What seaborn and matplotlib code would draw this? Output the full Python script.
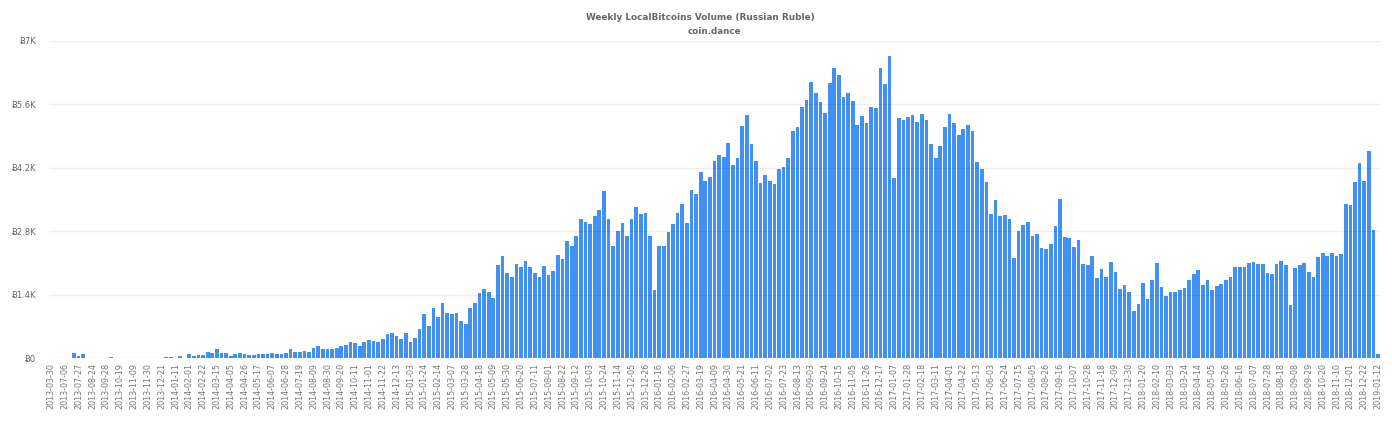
import matplotlib
matplotlib.use("Agg")
import matplotlib.pyplot as plt
import numpy as np
import pandas as pd
import seaborn as sns

# weekly volume (one value per bar)
volume = [
    0, 0, 0, 2, 0, 103, 44, 88, 2, 1, 1, 1, 3, 20, 3, 10, 10, 2, 10, 2,
    2, 3, 10, 10, 2, 20, 20, 3, 40, 10, 80, 44, 60, 75, 125, 118, 205, 118, 118, 52,
    80, 103, 88, 60, 75, 88, 88, 88, 100, 95, 88, 110, 199, 125, 125, 147, 132, 220, 258, 191,
    191, 199, 220, 265, 287, 346, 338, 258, 360, 397, 368, 353, 420, 520, 552, 493, 412, 552, 346, 449,
    636, 964, 707, 1097, 898, 1222, 990, 979, 986, 820, 758, 1104, 1207, 1428, 1516, 1465, 1332, 2053, 2252, 1884,
    1796, 2068, 2009, 2134, 2009, 1877, 1781, 2024, 1833, 1928, 2267, 2178, 2576, 2480, 2694, 3062, 3003, 2966, 3143, 3260,
    3680, 3062, 2480, 2804, 2981, 2694, 3076, 3341, 3172, 3209, 2694, 1494, 2480, 2466, 2789, 2951, 3209, 3400, 2973, 3717,
    3621, 4100, 3916, 3989, 4342, 4475, 4445, 4755, 4254, 4409, 5130, 5358, 4732, 4357, 3857, 4050, 3908, 3835, 4166, 4210,
    4416, 5012, 5093, 5549, 5697, 6087, 5859, 5652, 5417, 6079, 6411, 6256, 5763, 5844, 5667, 5137, 5351, 5189, 5535, 5513,
    6396, 6057, 6676, 3982, 5307, 5255, 5314, 5358, 5208, 5395, 5262, 4725, 4423, 4681, 5093, 5395, 5189, 4931, 5056, 5137,
    5005, 4320, 4166, 3893, 3172, 3496, 3135, 3165, 3076, 2215, 2811, 2929, 2995, 2701, 2738, 2436, 2399, 2524, 2914, 3503,
    2672, 2646, 2458, 2605, 2068, 2046, 2260, 1759, 1958, 1781, 2120, 1906, 1524, 1604, 1450, 1038, 1192, 1649, 1310, 1730,
    2098, 1568, 1369, 1465, 1450, 1494, 1546, 1722, 1862, 1950, 1619, 1730, 1501, 1582, 1627, 1715, 1788, 2002, 2009, 2017,
    2105, 2120, 2068, 2068, 1869, 1862, 2076, 2149, 2053, 1163, 1995, 2046, 2090, 1906, 1796, 2223, 2311, 2252, 2326, 2245,
    2289, 3400, 3386, 3879, 4298, 3901, 4563, 2819, 81,
]

# every third week is labelled
week_labels = [
    "2013-03-30", "2013-07-06", "2013-07-27", "2013-08-24", "2013-09-28", "2013-10-19", "2013-11-09",
    "2013-11-30", "2013-12-21", "2014-01-11", "2014-02-01", "2014-02-22", "2014-03-15", "2014-04-05",
    "2014-04-26", "2014-05-17", "2014-06-07", "2014-06-28", "2014-07-19", "2014-08-09", "2014-08-30",
    "2014-09-20", "2014-10-11", "2014-11-01", "2014-11-22", "2014-12-13", "2015-01-03", "2015-01-24",
    "2015-02-14", "2015-03-07", "2015-03-28", "2015-04-18", "2015-05-09", "2015-05-30", "2015-06-20",
    "2015-07-11", "2015-08-01", "2015-08-22", "2015-09-12", "2015-10-03", "2015-10-24", "2015-11-14",
    "2015-12-05", "2015-12-26", "2016-01-16", "2016-02-06", "2016-02-27", "2016-03-19", "2016-04-09",
    "2016-04-30", "2016-05-21", "2016-06-11", "2016-07-02", "2016-07-23", "2016-08-13", "2016-09-03",
    "2016-09-24", "2016-10-15", "2016-11-05", "2016-11-26", "2016-12-17", "2017-01-07", "2017-01-28",
    "2017-02-18", "2017-03-11", "2017-04-01", "2017-04-22", "2017-05-13", "2017-06-03", "2017-06-24",
    "2017-07-15", "2017-08-05", "2017-08-26", "2017-09-16", "2017-10-07", "2017-10-28", "2017-11-18",
    "2017-12-09", "2017-12-30", "2018-01-20", "2018-02-10", "2018-03-03", "2018-03-24", "2018-04-14",
    "2018-05-05", "2018-05-26", "2018-06-16", "2018-07-07", "2018-07-28", "2018-08-18", "2018-09-08",
    "2018-09-29", "2018-10-20", "2018-11-10", "2018-12-01", "2018-12-22", "2019-01-12",
]

y_ticks = [0, 1400, 2800, 4200, 5600, 7000]
y_labels = ["Ƀ0", "Ƀ1.4K", "Ƀ2.8K", "Ƀ4.2K", "Ƀ5.6K", "Ƀ7K"]

sns.set_theme(style="white")
plt.rcParams["font.family"] = ["DejaVu Sans"]

df = pd.DataFrame({"week": np.arange(len(volume)), "volume": volume})

fig = plt.figure(figsize=(13.92, 4.24), dpi=100)
ax = fig.add_axes([48.7 / 1392, 1 - 358 / 424, (1380.3 - 48.7) / 1392, (358 - 41) / 424])

sns.barplot(data=df, x="week", y="volume", color="#4191f5", saturation=1, width=0.8, linewidth=0, ax=ax)

ax.set_xlim(-0.5, len(volume) - 0.5)
ax.set_ylim(0, 7000)
ax.set_xlabel("")
ax.set_ylabel("")
sns.despine(ax=ax, left=True, bottom=True)

ax.set_yticks(y_ticks, y_labels)
ax.set_xticks(np.arange(0, len(volume), 3), week_labels, rotation=90)
ax.tick_params(axis="y", length=0, pad=9, labelsize=6.0, labelcolor="#666666")
ax.tick_params(axis="x", length=0, pad=3.5, labelsize=5.8, labelcolor="#777777")

# grid sits faintly on top of the bars
ax.set_axisbelow(False)
ax.yaxis.grid(True, color="black", alpha=0.07, linewidth=1.0)
ax.xaxis.grid(False)

fig.text(700 / 1392, 1 - 18 / 424, "Weekly LocalBitcoins Volume (Russian Ruble)", ha="center", va="center",
         fontsize=6.4, fontweight="bold", color="#666666")
fig.text(714.5 / 1392, 1 - 31 / 424, "coin.dance", ha="center", va="center",
         fontsize=6.3, fontweight="bold", color="#666666")

fig.savefig("out.png", dpi=100)
plt.close(fig)
